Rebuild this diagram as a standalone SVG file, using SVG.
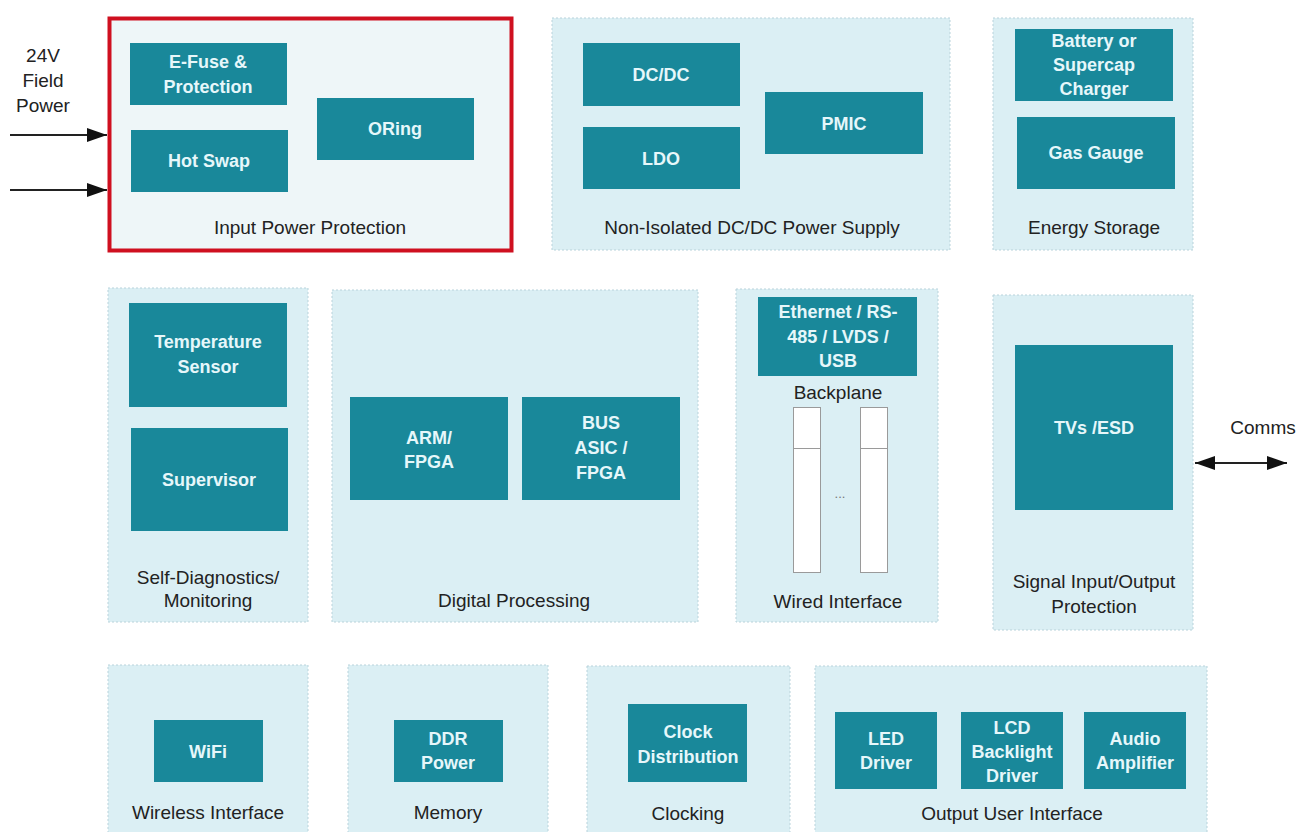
<svg xmlns="http://www.w3.org/2000/svg" width="1305" height="832" viewBox="0 0 1305 832">
<defs>
<style>
.grp{fill:#dbeff4;stroke:#b9d3db;stroke-width:1;stroke-dasharray:2 2}
.blk{fill:#19889a}
.bt{font-family:"Liberation Sans",Arial,sans-serif;font-size:18px;font-weight:bold;fill:#e6f7fa;text-anchor:middle}
.lbl{font-family:"Liberation Sans",Arial,sans-serif;font-size:19px;fill:#222;text-anchor:middle}
.slot{fill:#ffffff;stroke:#9a9a9a;stroke-width:1}
.conn{stroke:#222;stroke-width:2;fill:none}
</style>
<marker id="ah" viewBox="0 0 20 14" refX="20" refY="7" markerWidth="20" markerHeight="14" markerUnits="userSpaceOnUse" orient="auto-start-reverse">
<path d="M0,0 L20,7 L0,14 z" fill="#111"/>
</marker>
</defs>
<rect x="0" y="0" width="1305" height="832" fill="#ffffff"/>

<g id="input-power-protection">
<rect x="109.5" y="18.5" width="402" height="232" fill="#eef6f8" stroke="#cf1020" stroke-width="4"/>
<rect class="blk" x="130" y="43" width="157" height="62"/>
<text class="bt" x="208" y="68">E-Fuse &amp;</text>
<text class="bt" x="208" y="93">Protection</text>
<rect class="blk" x="131" y="130" width="157" height="62"/>
<text class="bt" x="209" y="167">Hot Swap</text>
<rect class="blk" x="317" y="98" width="157" height="62"/>
<text class="bt" x="395" y="135">ORing</text>
<text class="lbl" x="310" y="234">Input Power Protection</text>
</g>

<g id="non-isolated-dcdc">
<rect class="grp" x="552" y="18" width="398" height="232"/>
<rect class="blk" x="583" y="43" width="157" height="63"/>
<text class="bt" x="661" y="81">DC/DC</text>
<rect class="blk" x="583" y="127" width="157" height="62"/>
<text class="bt" x="661" y="165">LDO</text>
<rect class="blk" x="765" y="92" width="158" height="62"/>
<text class="bt" x="844" y="130">PMIC</text>
<text class="lbl" x="752" y="234">Non-Isolated DC/DC Power Supply</text>
</g>

<g id="energy-storage">
<rect class="grp" x="993" y="18" width="200" height="232"/>
<rect class="blk" x="1015" y="29" width="158" height="72"/>
<text class="bt" x="1094" y="47">Battery or</text>
<text class="bt" x="1094" y="71">Supercap</text>
<text class="bt" x="1094" y="95">Charger</text>
<rect class="blk" x="1017" y="117" width="158" height="72"/>
<text class="bt" x="1096" y="159">Gas Gauge</text>
<text class="lbl" x="1094" y="234">Energy Storage</text>
</g>

<g id="self-diagnostics">
<rect class="grp" x="108" y="288" width="200" height="334"/>
<rect class="blk" x="129" y="303" width="158" height="104"/>
<text class="bt" x="208" y="348">Temperature</text>
<text class="bt" x="208" y="373">Sensor</text>
<rect class="blk" x="131" y="428" width="157" height="103"/>
<text class="bt" x="209" y="486">Supervisor</text>
<text class="lbl" x="208" y="584">Self-Diagnostics/</text>
<text class="lbl" x="208" y="607">Monitoring</text>
</g>

<g id="digital-processing">
<rect class="grp" x="332" y="290" width="366" height="332"/>
<rect class="blk" x="350" y="397" width="158" height="103"/>
<text class="bt" x="429" y="444">ARM/</text>
<text class="bt" x="429" y="468">FPGA</text>
<rect class="blk" x="522" y="397" width="158" height="103"/>
<text class="bt" x="601" y="429">BUS</text>
<text class="bt" x="601" y="454">ASIC /</text>
<text class="bt" x="601" y="479">FPGA</text>
<text class="lbl" x="514" y="607">Digital Processing</text>
</g>

<g id="wired-interface">
<rect class="grp" x="736" y="289" width="202" height="333"/>
<rect class="blk" x="758" y="297" width="159" height="79"/>
<text class="bt" x="838" y="318">Ethernet / RS-</text>
<text class="bt" x="838" y="343">485 / LVDS /</text>
<text class="bt" x="838" y="367">USB</text>
<text class="lbl" x="838" y="399">Backplane</text>
<rect class="slot" x="793.5" y="407.5" width="27" height="165"/>
<line x1="793.5" y1="448.5" x2="820.5" y2="448.5" stroke="#9a9a9a" stroke-width="1"/>
<rect class="slot" x="860.5" y="407.5" width="27" height="165"/>
<line x1="860.5" y1="448.5" x2="887.5" y2="448.5" stroke="#9a9a9a" stroke-width="1"/>
<text x="840" y="498" font-family="'Liberation Sans',Arial,sans-serif" font-size="13" fill="#777" text-anchor="middle">...</text>
<text class="lbl" x="838" y="608">Wired Interface</text>
</g>

<g id="signal-io-protection">
<rect class="grp" x="993" y="295" width="200" height="335"/>
<rect class="blk" x="1015" y="345" width="158" height="165"/>
<text class="bt" x="1094" y="434">TVs /ESD</text>
<text class="lbl" x="1094" y="588">Signal Input/Output</text>
<text class="lbl" x="1094" y="613">Protection</text>
</g>

<g id="wireless-interface">
<rect class="grp" x="108" y="665" width="200" height="180"/>
<rect class="blk" x="154" y="720" width="109" height="62"/>
<text class="bt" x="208" y="758">WiFi</text>
<text class="lbl" x="208" y="819">Wireless Interface</text>
</g>

<g id="memory">
<rect class="grp" x="348" y="665" width="200" height="180"/>
<rect class="blk" x="394" y="720" width="109" height="62"/>
<text class="bt" x="448" y="745">DDR</text>
<text class="bt" x="448" y="769">Power</text>
<text class="lbl" x="448" y="819">Memory</text>
</g>

<g id="clocking">
<rect class="grp" x="587" y="666" width="203" height="180"/>
<rect class="blk" x="628" y="704" width="119" height="78"/>
<text class="bt" x="688" y="738">Clock</text>
<text class="bt" x="688" y="763">Distribution</text>
<text class="lbl" x="688" y="820">Clocking</text>
</g>

<g id="output-user-interface">
<rect class="grp" x="815" y="666" width="392" height="180"/>
<rect class="blk" x="835" y="712" width="102" height="77"/>
<text class="bt" x="886" y="745">LED</text>
<text class="bt" x="886" y="769">Driver</text>
<rect class="blk" x="961" y="712" width="102" height="77"/>
<text class="bt" x="1012" y="734">LCD</text>
<text class="bt" x="1012" y="758">Backlight</text>
<text class="bt" x="1012" y="782">Driver</text>
<rect class="blk" x="1084" y="712" width="102" height="77"/>
<text class="bt" x="1135" y="745">Audio</text>
<text class="bt" x="1135" y="769">Amplifier</text>
<text class="lbl" x="1012" y="820">Output User Interface</text>
</g>

<g id="external-labels">
<text class="lbl" x="43" y="62">24V</text>
<text class="lbl" x="43" y="87">Field</text>
<text class="lbl" x="43" y="112">Power</text>
<text class="lbl" x="1263" y="434">Comms</text>
</g>

<g id="connectors">
<line class="conn" x1="10" y1="135" x2="107" y2="135" marker-end="url(#ah)"/>
<line class="conn" x1="10" y1="190" x2="107" y2="190" marker-end="url(#ah)"/>
<line class="conn" x1="1195" y1="463" x2="1287" y2="463" marker-start="url(#ah)" marker-end="url(#ah)"/>
</g>
</svg>
